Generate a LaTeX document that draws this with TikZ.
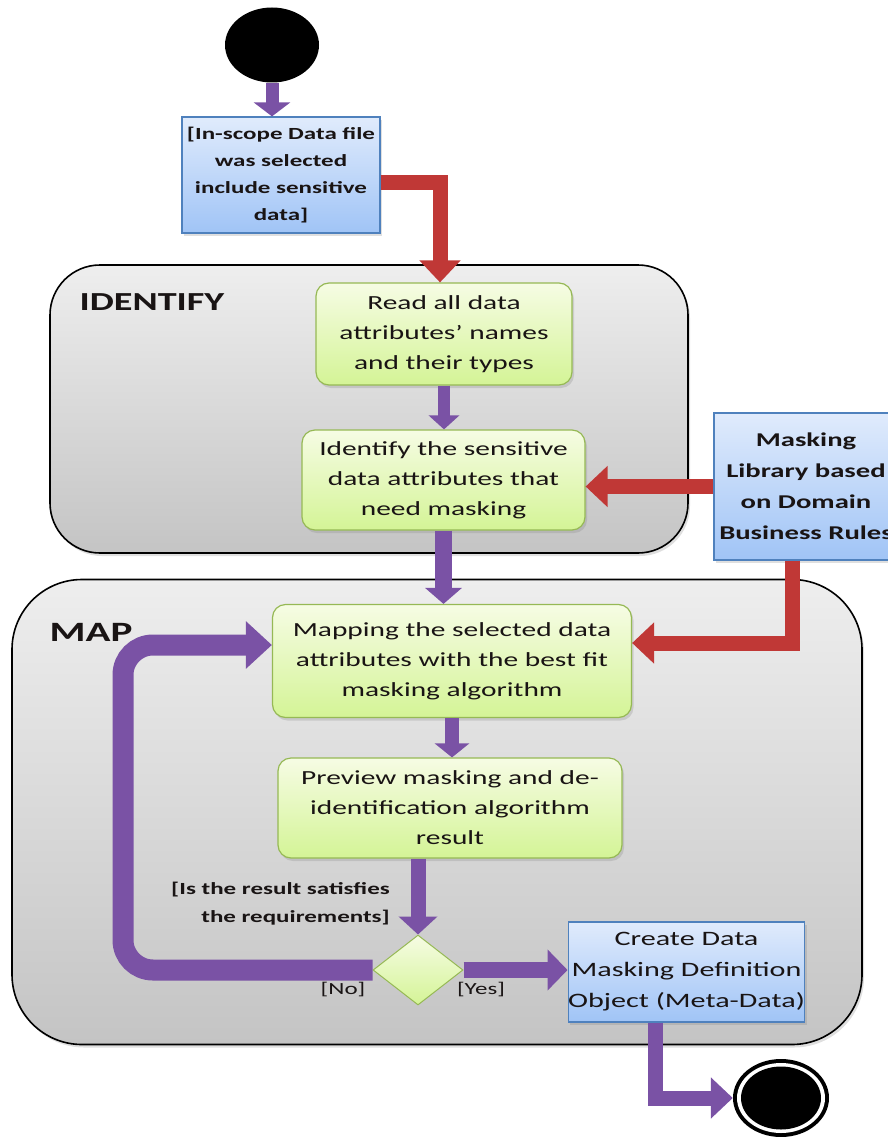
\documentclass[tikz,border=0pt]{standalone}
\usepackage{fontspec}
\setmainfont{Carlito}[FakeStretch=1.47]
\usetikzlibrary{arrows.meta,shapes.geometric,shadows}

\definecolor{flowpurple}{RGB}{122,82,165}
\definecolor{flowred}{RGB}{192,56,54}
\definecolor{greentop}{RGB}{246,252,228}
\definecolor{greenbot}{RGB}{212,244,150}
\definecolor{greenline}{RGB}{150,185,85}
\definecolor{bluetop}{RGB}{224,235,252}
\definecolor{bluebot}{RGB}{160,196,246}
\definecolor{blueline}{RGB}{79,129,189}
\definecolor{paneltop}{RGB}{238,238,238}
\definecolor{panelbot}{RGB}{196,196,196}
\definecolor{ink}{RGB}{25,20,20}

\tikzset{
  panel/.style={draw=black, line width=1.6pt, top color=paneltop, bottom color=panelbot,
    drop shadow={shadow xshift=2pt, shadow yshift=-3pt, opacity=.25}},
  heading/.style={font=\bfseries\fontsize{26}{30}\selectfont, text=ink, inner sep=0pt},
  actbox/.style={draw=greenline, line width=1.2pt, rounded corners=13pt,
    top color=greentop, bottom color=greenbot, align=center, text=ink,
    font=\fontsize{20}{30}\selectfont, inner sep=0pt,
    drop shadow={shadow xshift=2pt, shadow yshift=-3pt, opacity=.25}},
  infobox/.style={draw=blueline, line width=1.2pt, top color=bluetop, bottom color=bluebot,
    align=center, text=ink, inner sep=0pt,
    drop shadow={shadow xshift=2pt, shadow yshift=-3pt, opacity=.25}},
  guard/.style={font=\bfseries\fontsize{17}{28}\selectfont, text=ink, inner sep=0pt},
  parrow/.style={draw=flowpurple, line width=13pt, -{Triangle[length=14pt,width=36pt]}},
  rarrow/.style={draw=flowred, line width=15pt, -{Triangle[length=22pt,width=40pt]}},
}

\begin{document}
\begin{tikzpicture}[x=1pt, y=-1pt]
\useasboundingbox (0,0) rectangle (888,1137);

% swimlane panels
\node[panel, rounded corners=50pt, minimum width=638pt, minimum height=288pt] (idpanel) at (369,409) {};
\node[panel, rounded corners=70pt, minimum width=850pt, minimum height=465pt] (mappanel) at (437,812) {};
\node[heading] (idlabel) at (152,302) {IDENTIFY};
\node[heading, font=\bfseries\fontsize{28}{30}\selectfont] (maplabel) at (91,632) {MAP};

% initial node
\node[ellipse, fill=black, minimum width=94pt, minimum height=75pt, inner sep=0pt] (start) at (272,45) {};

% activities and objects
\node[infobox, minimum width=198pt, minimum height=116pt, font=\bfseries\fontsize{17}{27}\selectfont] (sel) at (281,175)
  {[In-scope Data file\\was selected\\include sensitive\\data]};
\node[actbox, minimum width=256pt, minimum height=102pt] (read) at (444,334)
  {Read all data\\attributes’ names\\and their types};
\node[actbox, minimum width=283pt, minimum height=100pt] (ident) at (443.5,480)
  {Identify the sensitive\\data attributes that\\need masking};
\node[infobox, minimum width=184pt, minimum height=147pt, font=\bfseries\fontsize{19.5}{31}\selectfont] (lib) at (806,486.5)
  {Masking\\Library based\\on Domain\\Business Rules};
\node[actbox, minimum width=359pt, minimum height=113pt] (map) at (452,661)
  {Mapping the selected data\\attributes with the best fit\\masking algorithm};
\node[actbox, minimum width=344pt, minimum height=100pt] (prev) at (450,808)
  {Preview masking and de-\\identification algorithm\\result};
\node[diamond, draw=greenline, line width=1pt, top color=greentop, bottom color=greenbot,
  minimum width=90pt, minimum height=70pt, inner sep=0pt] (dec) at (418,970) {};
\node[infobox, minimum width=227pt, minimum height=100pt, font=\fontsize{20.5}{31}\selectfont] (make) at (686.5,972)
  {Create Data\\Masking Definition\\Object (Meta-Data)};

% guard labels
\node[guard, anchor=east, align=right] (cond) at (390,904)
  {[Is the result satisfies\\the requirements]};
\node[guard, font=\fontsize{17}{20}\selectfont] (nolabel) at (343,990) {[No]};
\node[guard, font=\fontsize{17}{20}\selectfont] (yeslabel) at (481,990) {[Yes]};

% final node
\node[ellipse, fill=black, minimum width=96pt, minimum height=78pt, inner sep=0pt] (endc) at (781,1098) {};
\node[ellipse, fill=white, minimum width=88pt, minimum height=70pt, inner sep=0pt] (endgap) at (781,1098) {};
\node[ellipse, fill=black, minimum width=80pt, minimum height=63pt, inner sep=0pt] (enddot) at (781,1098) {};

\coordinate (loopx) at (123,0);

% control flow
\draw[parrow] (start.south) -- (start.south |- sel.north);
\draw[rarrow] ([yshift=-7pt]sel.east) -| ([xshift=-4pt]read.north);
\draw[parrow, line width=12pt, -{Triangle[length=14pt,width=30pt]}] (read.south) -- (read.south |- ident.north);
\draw[rarrow] (lib.west) -- (lib.west -| ident.east);
\draw[parrow, line width=17pt, -{Triangle[length=16pt,width=36pt]}] (ident.south) -- (ident.south |- map.north);
\draw[rarrow] ([xshift=-14pt]lib.south) |- ([yshift=18pt]map.east);
\draw[parrow, line width=14pt, -{Triangle[length=14pt,width=34pt]}] (map.south) -- (map.south |- prev.north);
\draw[parrow, line width=15pt, -{Triangle[length=18pt,width=38pt]}] (dec.north |- prev.south) -- (dec.north);
\draw[parrow, line width=21pt, rounded corners=30pt, -{Triangle[length=26pt,width=46pt]}]
  (dec.west) -- (dec.west -| loopx) |- ([yshift=16pt]map.west);
\draw[parrow, line width=16pt, -{Triangle[length=20pt,width=40pt]}] (dec.east) -- (dec.east -| make.west);
\draw[parrow, line width=15pt, -{Triangle[length=22pt,width=40pt]}] ([xshift=-31pt]make.south) |- (endc.west);
\end{tikzpicture}
\end{document}
